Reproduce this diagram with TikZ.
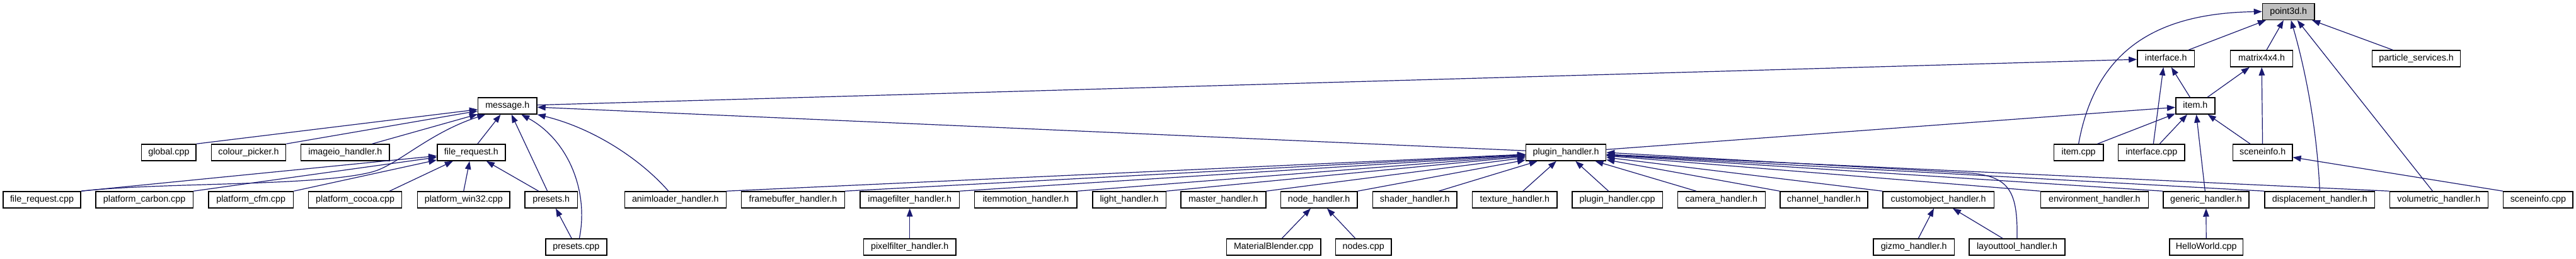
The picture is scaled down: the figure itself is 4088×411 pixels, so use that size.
\documentclass[tikz,border=0pt]{standalone}
\usepackage{fontspec}
\setmainfont{Liberation Sans}
\usetikzlibrary{arrows.meta}
\definecolor{edgeblue}{HTML}{191970}
\definecolor{rootgray}{HTML}{BFBFBF}
\begin{document}
\begin{tikzpicture}[x=1pt,y=1pt,
  box/.style={draw=black, line width=1.5pt, fill=white, minimum height=26pt, inner sep=0pt,
    text height=10.5pt, text depth=3pt, font=\fontsize{14.3}{16}\selectfont},
  edge/.style={draw=edgeblue, line width=1.2pt, -{Triangle[length=13pt,width=9.5pt]}}]
\path[use as bounding box, fill=white] (0,0) rectangle (4088,411);

% row 0
\node[box, fill=rootgray, minimum width=82.5pt] (p3d) at (3631.7,392.6) {point3d.h};
% row 1
\node[box, minimum width=90.6pt] (iface) at (3437.2,318) {interface.h};
\node[box, minimum width=99.2pt] (mat) at (3589.1,318) {matrix4x4.h};
\node[box, minimum width=140pt] (part) at (3834.6,318) {particle\_services.h};
% row 2
\node[box, minimum width=93.3pt] (msg) at (805.3,243) {message.h};
\node[box, minimum width=62.3pt] (item) at (3483.9,243) {item.h};
% row 3
\node[box, minimum width=86.6pt] (global) at (267.9,169) {global.cpp};
\node[box, minimum width=118.3pt] (colour) at (394.5,169) {colour\_picker.h};
\node[box, minimum width=140.2pt] (imageio) at (547.8,169) {imageio\_handler.h};
\node[box, minimum width=108.1pt] (freq) at (747.9,169) {file\_request.h};
\node[box, minimum width=126.8pt] (plugin) at (2485.1,169) {plugin\_handler.h};
\node[box, minimum width=78.6pt] (itemcpp) at (3298.6,169) {item.cpp};
\node[box, minimum width=105.6pt] (ifacecpp) at (3414.3,169) {interface.cpp};
\node[box, minimum width=94.3pt] (scinfo) at (3590.7,169) {sceneinfo.h};
% row 4
\node[box, minimum width=123.2pt] (frcpp) at (66.5,94) {file\_request.cpp};
\node[box, minimum width=154.5pt] (carbon) at (229.1,94) {platform\_carbon.cpp};
\node[box, minimum width=134.8pt] (cfm) at (398.2,94) {platform\_cfm.cpp};
\node[box, minimum width=147.8pt] (cocoa) at (563.6,94) {platform\_cocoa.cpp};
\node[box, minimum width=146.5pt] (win32) at (735.8,94) {platform\_win32.cpp};
\node[box, minimum width=83.1pt] (presets) at (874.7,94) {presets.h};
\node[box, minimum width=161.1pt] (animl) at (1071.8,94) {animloader\_handler.h};
\node[box, minimum width=163.9pt] (frameb) at (1258.4,94) {framebuffer\_handler.h};
\node[box, minimum width=157.6pt] (imgf) at (1443.7,94) {imagefilter\_handler.h};
\node[box, minimum width=162.5pt] (itemm) at (1627.9,94) {itemmotion\_handler.h};
\node[box, minimum width=116.5pt] (light) at (1792,94) {light\_handler.h};
\node[box, minimum width=134.9pt] (master) at (1941.3,94) {master\_handler.h};
\node[box, minimum width=121.5pt] (node) at (2093.1,94) {node\_handler.h};
\node[box, minimum width=133.5pt] (shader) at (2245.2,94) {shader\_handler.h};
\node[box, minimum width=134.8pt] (texture) at (2403.8,94) {texture\_handler.h};
\node[box, minimum width=143.3pt] (plugcpp) at (2566.6,94) {plugin\_handler.cpp};
\node[box, minimum width=139pt] (camera) at (2731.8,94) {camera\_handler.h};
\node[box, minimum width=138.9pt] (channel) at (2894.4,94) {channel\_handler.h};
\node[box, minimum width=176.3pt] (custom) at (3076.1,94) {customobject\_handler.h};
\node[box, minimum width=171pt] (env) at (3323.8,94) {environment\_handler.h};
\node[box, minimum width=136pt] (generic) at (3500.9,94) {generic\_handler.h};
\node[box, minimum width=174.7pt] (disp) at (3681.3,94) {displacement\_handler.h};
\node[box, minimum width=156.2pt] (vol) at (3870.4,94) {volumetric\_handler.h};
\node[box, minimum width=110.6pt] (sccpp) at (4027.9,94) {sceneinfo.cpp};
% row 5
\node[box, minimum width=97.3pt] (presetscpp) at (914.4,19) {presets.cpp};
\node[box, minimum width=146.8pt] (pixf) at (1443.7,19) {pixelfilter\_handler.h};
\node[box, minimum width=149.2pt] (matbl) at (2021.2,19) {MaterialBlender.cpp};
\node[box, minimum width=88.4pt] (nodescpp) at (2163.7,19) {nodes.cpp};
\node[box, minimum width=128.2pt] (gizmo) at (3037.2,19) {gizmo\_handler.h};
\node[box, minimum width=152.2pt] (layout) at (3201,19) {layouttool\_handler.h};
\node[box, minimum width=116.3pt] (hello) at (3501.2,19) {HelloWorld.cpp};

% edges to point3d.h
\draw[edge] (iface) -- (p3d);
\draw[edge] (itemcpp.north) .. controls (3325,330) and (3420,390) .. (p3d.west);
\draw[edge] (mat) -- (p3d);
\draw[edge] (disp.north) .. controls (3676,230) and (3650,330) .. ([xshift=4pt]p3d.south);
\draw[edge] ([xshift=-10pt]vol.north) -- ([xshift=14pt]p3d.south);
\draw[edge] (part) -- (p3d);
% edges to interface.h
\draw[edge] (msg) -- (iface);
\draw[edge] (item) -- (iface);
\draw[edge] ([xshift=3pt]ifacecpp.north) -- ([xshift=-4pt]iface.south);
% edges to matrix4x4.h
\draw[edge] (item) -- (mat);
\draw[edge] (scinfo) -- (mat);
% edges to item.h
\draw[edge] (plugin) -- (item);
\draw[edge] ([xshift=-10pt]itemcpp.north east) -- (item);
\draw[edge] (ifacecpp) -- (item);
\draw[edge] (generic) -- (item);
\draw[edge] (scinfo) -- (item);
% sceneinfo.h
\draw[edge] (sccpp.north west) -- (scinfo);
% edges to message.h
\draw[edge] (global.north east) -- (msg);
\draw[edge] (colour.north east) -- (msg);
\draw[edge] ([xshift=-28pt]imageio.north east) -- (msg);
\draw[edge] (frcpp.north east) .. controls (260,122) and (500,115) .. (590,138)
  .. controls (630,148) and (680,200) .. ([xshift=-35pt]msg.south);
\draw[edge] ([xshift=10pt]freq.north) -- (msg);
\draw[edge] ([xshift=-6pt]presets.north) -- (msg);
\draw[edge] ([xshift=5pt]presetscpp.north) .. controls (935,110) and (900,190) .. ([xshift=22pt]msg.south);
\draw[edge] ([xshift=-11pt]animl.north) .. controls (1015,160) and (940,208) .. (msg.south east);
\draw[edge] (plugin) -- (msg);
% edges to file_request.h
\draw[edge] (frcpp.north east) -- (freq);
\draw[edge] (carbon.north east) -- (freq);
\draw[edge] (cfm.north east) -- (freq);
\draw[edge] ([xshift=-20pt]cocoa.north east) -- (freq);
\draw[edge] (win32.north) -- (freq);
\draw[edge] ([xshift=-20pt]presets.north) -- (freq);
\draw[edge] (presetscpp) -- (presets);
% edges to plugin_handler.h
\foreach \n in {animl,frameb,imgf,itemm,light,master,node}
  \draw[edge] (\n.north east) -- (plugin);
\draw[edge] ([xshift=38pt]shader.north) -- (plugin);
\draw[edge] ([xshift=13pt]texture.north) -- (plugin);
\draw[edge] ([xshift=-14pt]plugcpp.north) -- (plugin);
\draw[edge] ([xshift=-40pt]camera.north) -- (plugin);
\foreach \n in {channel,custom,env,generic,disp,vol}
  \draw[edge] (\n.north west) -- (plugin);
\draw[edge] (layout.north) .. controls (3202,105) and (3190,130) .. (3130,136) -- (plugin.east);
% lower row
\draw[edge] (pixf) -- (imgf);
\draw[edge] (matbl) -- (node);
\draw[edge] (nodescpp) -- (node);
\draw[edge] (gizmo) -- (custom);
\draw[edge] (layout) -- (custom);
\draw[edge] (hello) -- (generic);
\end{tikzpicture}
\end{document}
